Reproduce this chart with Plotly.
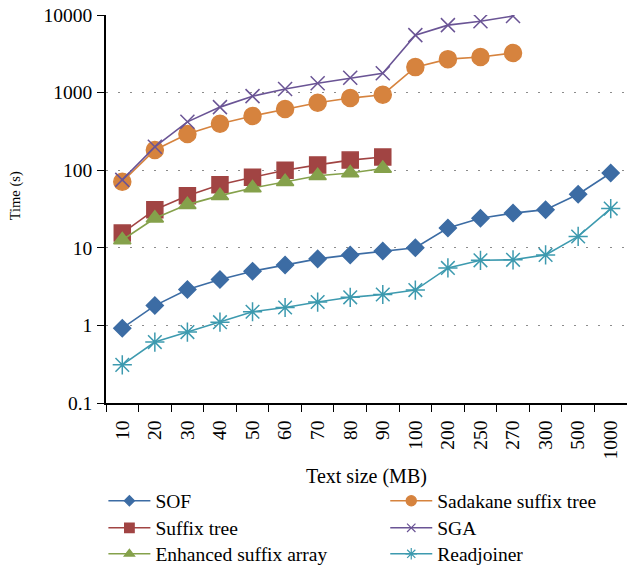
import plotly.graph_objects as go

sizes = ['10', '20', '30', '40', '50', '60', '70', '80', '90', '100',
         '200', '250', '270', '300', '500', '1000']

sof = [0.92, 1.8, 2.9, 3.9, 5.0, 6.0, 7.2, 8.1, 9.1, 10, 18, 24, 28, 31, 49, 92]
readjoiner = [0.31, 0.61, 0.82, 1.1, 1.5, 1.7, 2.0, 2.3, 2.5, 2.85, 5.5, 6.9, 7.0, 8.1, 14, 32]
suffix_tree = [15.5, 31, 47, 65, 81, 100, 117, 135, 148]
esa = [12.6, 24, 36, 47, 59, 71, 85, 92, 105]
sadakane = [71, 182, 293, 397, 500, 614, 740, 850, 940, 2130, 2700, 2880, 3240]
sga = [75, 200, 420, 650, 900, 1110, 1320, 1550, 1780, 5500, 7400, 8300, 9700]

FONT = 'Liberation Serif, Times New Roman, serif'

# name, values, colour, symbol, marker size, legend slot (column, row)
series = [
    ('SOF', sof, '#3C6CA4', 'diamond', 13, (0, 0)),
    ('Suffix tree', suffix_tree, '#A14443', 'square', 16, (0, 1)),
    ('Enhanced suffix array', esa, '#85A14B', 'triangle-up', 15, (0, 2)),
    ('Sadakane suffix tree', sadakane, '#D6833E', 'circle', 17, (1, 0)),
    ('SGA', sga, '#6A5495', 'x-thin-open', 14, (1, 1)),
    ('Readjoiner', readjoiner, '#3D9AAF', 'asterisk-open', 16, (1, 2)),
]
legend_x = [-0.005, 0.536]
legend_y = [-0.2026, -0.2722, -0.3392]

fig = go.Figure()
legends = {}
for i, (name, vals, color, symbol, size, (col, row)) in enumerate(series):
    leg = 'legend' if i == 0 else 'legend%d' % (i + 1)
    legends[leg] = dict(
        x=legend_x[col], y=legend_y[row], xanchor='left', yanchor='top',
        itemwidth=42, bgcolor='rgba(0,0,0,0)',
        font=dict(family=FONT, size=19.5, color='black'),
    )
    fig.add_trace(go.Scatter(
        x=sizes[:len(vals)], y=vals, name=name, mode='lines+markers',
        line=dict(color=color, width=1.6), showlegend=False,
        marker=dict(symbol=symbol, size=size, color=color,
                    line=dict(color=color, width=1.5)),
    ))
    # legend entry with a smaller marker, like the original
    fig.add_trace(go.Scatter(
        x=[None], y=[None], name=name, mode='lines+markers', legend=leg,
        line=dict(color=color, width=1.6),
        marker=dict(symbol=symbol, size=size * 0.6, color=color,
                    line=dict(color=color, width=1.2)),
    ))

fig.update_layout(
    width=627, height=567,
    margin=dict(l=106, r=0, t=15, b=164, autoexpand=False),
    paper_bgcolor='white', plot_bgcolor='white',
    font=dict(family=FONT, size=19.5, color='black'),
    showlegend=True,
    annotations=[dict(
        text='Time (s)', textangle=-90, showarrow=False,
        xref='paper', yref='paper', x=-0.173, y=0.535,
        xanchor='center', yanchor='middle', font=dict(size=14.5),
    )],
    **legends,
)
fig.update_xaxes(
    type='category', categoryorder='array', categoryarray=sizes,
    range=[-0.5, len(sizes) - 0.5],
    tickangle=-90, tickson='boundaries', ticks='outside', ticklen=7,
    ticklabelstandoff=8, automargin=False,
    tickcolor='black', showline=True, linecolor='black', linewidth=1.5,
    showgrid=False,
    title=dict(text='Text size (MB)', standoff=10, font=dict(size=20)),
)
fig.update_yaxes(
    type='log', range=[-1, 4], tickvals=[0.1, 1, 10, 100, 1000, 10000],
    ticktext=['0.1', '1', '10', '100', '1000', '10000'],
    ticks='outside', ticklen=7, tickcolor='black', ticklabelstandoff=1,
    automargin=False,
    showline=True, linecolor='black', linewidth=1.5,
    showgrid=True, gridcolor='#8c8c8c', gridwidth=1.3, griddash='2px,10px',
    zeroline=False,
)
fig.write_html('out.html', config={'displayModeBar': False},
               post_script="document.body.style.margin='0';")
